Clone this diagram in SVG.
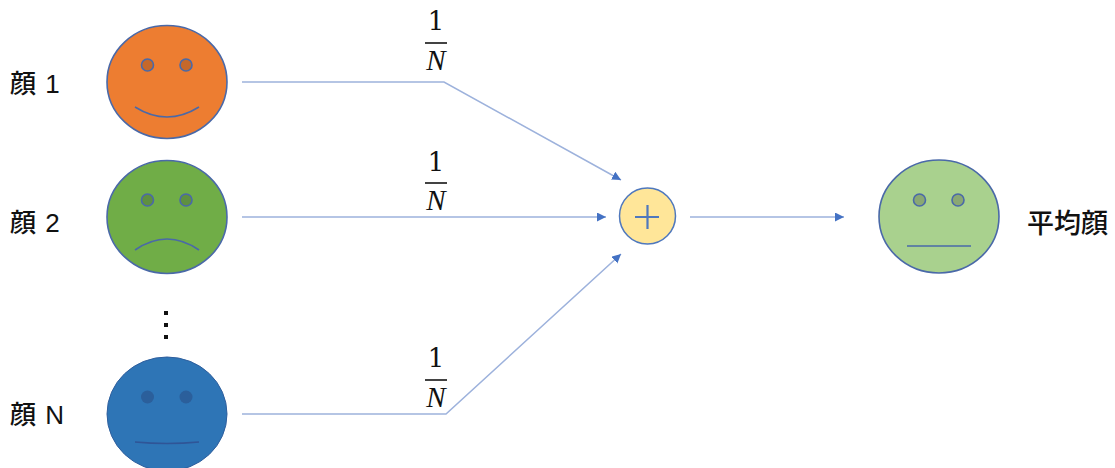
<svg xmlns="http://www.w3.org/2000/svg" width="1115" height="468" viewBox="0 0 1115 468">
<style>
.lbl{font-family:"Liberation Sans","Noto Sans CJK JP",sans-serif;font-size:26px;font-weight:500;fill:#111;word-spacing:2px}
.num{font-family:"DejaVu Serif","Liberation Serif",serif;font-size:26px;fill:#111;text-anchor:middle}
.it{font-family:"Liberation Serif","DejaVu Serif",serif;font-size:29px;font-style:italic;fill:#111;text-anchor:middle}
.face{stroke:#4a69a8;stroke-width:1.6}
.eye{stroke:#4a69a8;stroke-width:1.6}
.mouth{fill:none;stroke:#4a69a8;stroke-width:1.6}
.conn{fill:none;stroke:#9db2dc;stroke-width:1.5;marker-end:url(#ah)}
.bar{stroke:#222;stroke-width:1.7}
</style>
<defs>
<marker id="ah" markerUnits="userSpaceOnUse" markerWidth="10" markerHeight="10" refX="9" refY="4.5" orient="auto"><path d="M0 0L9 4.5L0 9Z" fill="#4472c4"/></marker>
</defs>
<g id="connectors">
<path class="conn" d="M242 82H444L621 180"/>
<path class="conn" d="M242 217H606"/>
<path class="conn" d="M242 414H446L621 254"/>
<path class="conn" d="M690 217H844"/>
</g>
<g id="face1">
<ellipse class="face" cx="167" cy="82" rx="60" ry="56.500" fill="#ed7d31"/>
<circle class="eye" cx="147.500" cy="65" r="6" fill="#c5682a"/>
<circle class="eye" cx="186" cy="65" r="6" fill="#c5682a"/>
<path class="mouth" d="M135 107Q167 127 199 107"/>
<text class="lbl" x="10" y="93">顔 1</text>
</g>
<g id="face2">
<ellipse class="face" cx="167" cy="217" rx="60" ry="56.500" fill="#70ad47"/>
<circle class="eye" cx="147.500" cy="200" r="6" fill="#5f9040"/>
<circle class="eye" cx="186" cy="200" r="6" fill="#5f9040"/>
<path class="mouth" d="M135 250Q167 228 199 250"/>
<text class="lbl" x="10" y="232">顔 2</text>
</g>
<g id="dots">
<rect x="164" y="311" width="4" height="4" fill="#111"/>
<rect x="164" y="323" width="4" height="4" fill="#111"/>
<rect x="164" y="335" width="4" height="4" fill="#111"/>
</g>
<g id="faceN">
<ellipse cx="167" cy="414" rx="60" ry="57" fill="#2e75b6" stroke="#2f5f9e" stroke-width="1"/>
<circle cx="147.500" cy="397" r="6.500" fill="#2b5f9b"/>
<circle cx="186" cy="397" r="6.500" fill="#2b5f9b"/>
<path d="M135 442Q167 445 199 442" fill="none" stroke="#2f5597" stroke-width="1.500"/>
<text class="lbl" x="10" y="424">顔 N</text>
</g>
<g id="frac1">
<text class="num" x="436" y="30">1</text>
<line class="bar" x1="425" y1="43" x2="447" y2="43"/>
<text class="it" x="436" y="70">N</text>
</g>
<g id="frac2">
<text class="num" x="436" y="171">1</text>
<line class="bar" x1="425" y1="183" x2="447" y2="183"/>
<text class="it" x="436" y="210">N</text>
</g>
<g id="fracN">
<text class="num" x="436" y="367">1</text>
<line class="bar" x1="425" y1="380" x2="447" y2="380"/>
<text class="it" x="436" y="407">N</text>
</g>
<g id="sum">
<circle cx="647.500" cy="216" r="28" fill="#ffe699" stroke="#4f78bd" stroke-width="1.500"/>
<path d="M635 217H659M647.500 205V229" fill="none" stroke="#4f78bd" stroke-width="2.200"/>
</g>
<g id="avg">
<ellipse class="face" cx="939" cy="216.500" rx="60" ry="56.500" fill="#a9d18e"/>
<circle class="eye" cx="919.500" cy="200" r="6" fill="#8aa873"/>
<circle class="eye" cx="958" cy="200" r="6" fill="#8aa873"/>
<line class="mouth" x1="907" y1="246" x2="971" y2="246"/>
<text class="lbl" x="1027" y="233" style="font-size:27px">平均顔</text>
</g>
</svg>
